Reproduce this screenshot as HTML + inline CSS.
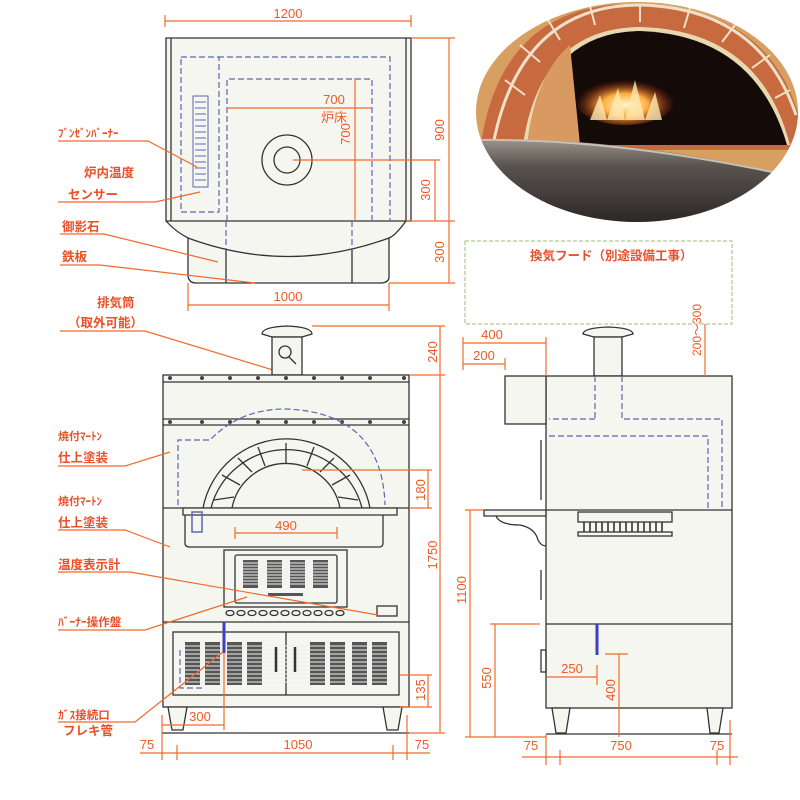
<!DOCTYPE html>
<html><head><meta charset="utf-8"><style>
html,body{margin:0;padding:0;background:#fff;}
svg{display:block;}
text{font-family:"Liberation Sans","Noto Sans CJK JP",sans-serif;}
.d{stroke:#f26a2c;stroke-width:1.2;fill:none}
.t{fill:#ee5a28;font-size:13px}
.tl{fill:#e8502a;font-size:12.5px;font-weight:bold}
.k{stroke:#333;stroke-width:1.3;fill:none}
.f{stroke:#333;stroke-width:1.3;fill:#f6f6f1}
.b{stroke:#5a66b0;stroke-width:1.2;fill:none;stroke-dasharray:6 3}
.v{fill:#444}
</style></head><body>
<svg width="800" height="800" viewBox="0 0 800 800" xmlns="http://www.w3.org/2000/svg">
<defs>
<clipPath id="ph"><ellipse cx="637" cy="112" rx="161" ry="110"/></clipPath>
<radialGradient id="fire" cx="0.5" cy="0.6" r="0.5"><stop offset="0" stop-color="#fff8d0"/><stop offset="0.45" stop-color="#ffb040"/><stop offset="1" stop-color="#c03010" stop-opacity="0"/></radialGradient>
<linearGradient id="flr" x1="0" y1="0" x2="0" y2="1"><stop offset="0" stop-color="#9a948c"/><stop offset="0.3" stop-color="#5a5450"/><stop offset="1" stop-color="#2a2624"/></linearGradient>
</defs>
<rect width="800" height="800" fill="#fff"/>
<!-- photo -->
<g clip-path="url(#ph)">
<rect x="476" y="0" width="324" height="225" fill="#d8a060"/>
<path d="M480,150 Q500,0 640,4 Q770,8 800,120 L800,150 Z" fill="#c86a40"/>
<path d="M493,145 Q520,5 640,5 Q760,8 796,115" stroke="#f0e0c8" stroke-width="3" fill="none"/>
<path d="M523,145 Q540,28 640,27 Q760,30 790,145 Z" fill="#e8d8b0"/>
<path d="M527,145 Q545,32 640,31 Q755,35 787,145 Z" fill="#140a08"/>
<path d="M527,145 Q535,75 570,45 L580,145 Z" fill="#d89a60"/>
<ellipse cx="625" cy="100" rx="50" ry="25" fill="url(#fire)"/>
<path d="M590,120 L600,95 L607,120 L618,88 L625,120 L635,80 L645,120 L655,92 L662,120 Z" fill="#ffe8b0" opacity="0.8"/>
<path d="M476,140 Q620,135 800,178 L800,225 L476,225 Z" fill="url(#flr)"/>
<path d="M476,140 Q620,138 800,178" stroke="#c8c0b4" stroke-width="2" fill="none"/>
<g stroke="#f0e0c8" stroke-width="2"><path d="M505,80 L525,95 M520,45 L540,62 M548,20 L560,40 M590,6 L595,25 M640,4 L640,22 M690,8 L684,28 M735,25 L722,42 M770,55 L752,68 M790,90 L775,98"/></g>
</g>
<!-- TOP VIEW -->
<path class="d" d="M165,21 H411 M165,15 V27 M411,15 V27"/>
<text class="t" x="288" y="18" text-anchor="middle">1200</text>
<path class="f" d="M166,38 H411 V221 L406,221 Q395,236 389,238 L389,278 Q388,283 380,283 H196 Q189,283 188,276 L188,238 Q176,232 166,221 Z"/>
<path class="k" d="M171,38 V221 M406,38 V221 M166,221 H411"/>
<path class="k" d="M188,238 Q288,275 389,238"/>
<path class="k" d="M226,250 V283 M352,250 V283"/>
<path class="b" d="M181,57 H219 V212 H181 Z"/>
<path class="b" d="M218,57 H390 V221 M227,221 V79 H372 V221"/>
<path class="b" d="M226,221 V250 M352,221 V250"/>
<rect x="193" y="96" width="15" height="91" fill="none" stroke="#5a66b0" stroke-width="1"/>
<g stroke="#5a66b0" stroke-width="0.9" fill="none">
<path d="M195,102 h11 M195,108 h11 M195,114 h11 M195,120 h11 M195,126 h11 M195,132 h11 M195,138 h11 M195,144 h11 M195,150 h11 M195,156 h11 M195,162 h11 M195,168 h11 M195,174 h11 M195,180 h11"/>
</g>
<circle class="k" cx="287" cy="160" r="25"/><circle class="k" cx="287" cy="160" r="13"/>
<path class="d" d="M227,108 H372 M355,78 V221 M293,160 H440 M435,160 V221 M411,38 H455 M389,283 H455 M406,221 H455 M449,38 V283"/>
<text class="t" x="334" y="104" text-anchor="middle">700</text>
<text class="t" x="334" y="122" text-anchor="middle">炉床</text>
<text class="t" transform="translate(350,134) rotate(-90)" text-anchor="middle">700</text>
<text class="t" transform="translate(444,130) rotate(-90)" text-anchor="middle">900</text>
<text class="t" transform="translate(430,190) rotate(-90)" text-anchor="middle">300</text>
<text class="t" transform="translate(444,252) rotate(-90)" text-anchor="middle">300</text>
<path class="d" d="M188,305 H389 M188,283 V311 M389,283 V311"/>
<text class="t" x="288" y="301" text-anchor="middle">1000</text>
<!-- top labels -->
<text class="tl" x="58" y="137" style="font-size:11px">ﾌﾞﾝｾﾞﾝﾊﾞｰﾅｰ</text>
<path class="d" d="M58,141 H148 L197,167"/>
<text class="tl" x="84" y="177">炉内温度</text>
<text class="tl" x="68" y="199">センサー</text>
<path class="d" d="M58,202 H155 L200,192"/>
<text class="tl" x="62" y="231">御影石</text>
<path class="d" d="M60,234 H104 L218,262"/>
<text class="tl" x="62" y="261">鉄板</text>
<path class="d" d="M60,265 H100 L255,283"/>
<text class="tl" x="97" y="307">排気筒</text>
<text class="tl" x="68" y="327">（取外可能）</text>
<path class="d" d="M60,331 H145 L273,370"/>
<!-- FRONT VIEW -->
<path class="f" d="M262,334 Q262,327 287,326 Q312,327 312,334 L302,337 H272 Z"/>
<rect class="f" x="272" y="337" width="30" height="38"/>
<circle class="k" cx="285" cy="352" r="6"/><path class="k" d="M289,357 L296,364"/>
<rect class="f" x="163" y="375" width="246" height="332"/>
<path class="k" d="M163,382 H409 M163,419 H409 M163,425 H409 M163,508 H409 M163,622 H409"/>
<g class="v"><circle cx="170" cy="378" r="2"/><circle cx="202" cy="378" r="2"/><circle cx="230" cy="378" r="2"/><circle cx="258" cy="378" r="2"/><circle cx="286" cy="378" r="2"/><circle cx="314" cy="378" r="2"/><circle cx="342" cy="378" r="2"/><circle cx="370" cy="378" r="2"/><circle cx="404" cy="378" r="2"/>
<circle cx="170" cy="422" r="2"/><circle cx="202" cy="422" r="2"/><circle cx="230" cy="422" r="2"/><circle cx="258" cy="422" r="2"/><circle cx="286" cy="422" r="2"/><circle cx="314" cy="422" r="2"/><circle cx="342" cy="422" r="2"/><circle cx="370" cy="422" r="2"/><circle cx="404" cy="422" r="2"/></g>
<path class="b" d="M178,505 V440 H210 Q240,409 285,409 Q382,412 385,505"/>
<path d="M203,508 A85,85 0 0 1 370,508 L362,508 A78,78 0 0 0 211,508 Z" fill="#f6f6f1" stroke="#333" stroke-width="1.3"/>
<path class="k" d="M232,508 A55,55 0 0 1 340,508"/>
<g class="k" stroke-width="2">
<path d="M214,500 L234,497 M222,475 L240,485 M238,458 L252,472 M258,447 L265,466 M286,443 L286,463 M314,447 L307,466 M334,458 L320,472 M350,475 L332,485 M358,500 L338,497"/>
</g>
<path class="f" d="M183,508 H397 V515 H183 Z"/>
<path class="k" d="M185,515 V543 Q185,547 190,547 H379 Q383,547 383,543 V515"/>
<rect x="192" y="512" width="10" height="20" fill="none" stroke="#5a66b0" stroke-width="1.5"/>
<path class="d" d="M235,533 H337 M235,527 V539 M337,527 V539"/>
<text class="t" x="286" y="530" text-anchor="middle">490</text>
<rect class="f" x="224" y="550" width="123" height="57"/>
<rect class="k" x="235" y="555" width="102" height="48" rx="2"/>
<g fill="#555"><rect x="243" y="560" width="15" height="28"/><rect x="267" y="560" width="15" height="28"/><rect x="290" y="560" width="15" height="28"/><rect x="313" y="560" width="15" height="28"/></g>
<g stroke="#eee" stroke-width="1"><path d="M243,563h85M243,566h85M243,569h85M243,572h85M243,575h85M243,578h85M243,581h85M243,584h85"/></g>
<rect x="268" y="593" width="35" height="3" fill="#555"/>
<g class="k" stroke-width="1"><ellipse cx="230" cy="613" rx="4" ry="2.5"/><ellipse cx="241" cy="613" rx="4" ry="2.5"/><ellipse cx="252" cy="613" rx="4" ry="2.5"/><ellipse cx="263" cy="613" rx="4" ry="2.5"/><ellipse cx="274" cy="613" rx="4" ry="2.5"/><ellipse cx="285" cy="613" rx="4" ry="2.5"/><ellipse cx="296" cy="613" rx="4" ry="2.5"/><ellipse cx="307" cy="613" rx="4" ry="2.5"/><ellipse cx="318" cy="613" rx="4" ry="2.5"/><ellipse cx="329" cy="613" rx="4" ry="2.5"/><ellipse cx="340" cy="613" rx="4" ry="2.5"/></g>
<rect class="k" x="377" y="606" width="20" height="10"/>
<rect class="k" x="173" y="632" width="226" height="63"/>
<path class="k" d="M286,632 V695"/>
<g fill="#555"><rect x="185" y="642" width="15" height="43"/><rect x="205" y="642" width="15" height="43"/><rect x="227" y="642" width="15" height="43"/><rect x="247" y="642" width="15" height="43"/><rect x="310" y="642" width="15" height="43"/><rect x="330" y="642" width="15" height="43"/><rect x="352" y="642" width="15" height="43"/><rect x="372" y="642" width="15" height="43"/></g>
<g stroke="#eee" stroke-width="1"><path d="M185,646h202M185,650h202M185,654h202M185,658h202M185,662h202M185,666h202M185,670h202M185,674h202M185,678h202M185,682h202"/></g>
<path d="M276,647 V672 M295,647 V672" stroke="#333" stroke-width="2.5"/>
<path d="M224,622 V653" stroke="#3a40c0" stroke-width="3"/>
<path class="b" d="M180,650 V688 H205"/>
<path class="f" d="M168,707 H187 L183,730 H172 Z"/><path class="f" d="M383,707 H402 L398,730 H387 Z"/>
<path class="k" d="M162,733 H409"/>
<!-- front dims -->
<path class="d" d="M312,326 H445 M409,375 H445 M440,326 V733 M409,733 H445 M302,470 H432 M428,470 V508 M409,508 H432 M428,675 V707 M400,707 H432 M400,675 H432"/>
<text class="t" transform="translate(437,352) rotate(-90)" text-anchor="middle">240</text>
<text class="t" transform="translate(437,555) rotate(-90)" text-anchor="middle">1750</text>
<text class="t" transform="translate(425,490) rotate(-90)" text-anchor="middle">180</text>
<text class="t" transform="translate(425,690) rotate(-90)" text-anchor="middle">135</text>
<path class="d" d="M162,725 H224 M162,715 V760 M224,653 V730"/>
<text class="t" x="200" y="721" text-anchor="middle">300</text>
<path class="d" d="M140,753 H430 M177,745 V760 M393,745 V760 M407,715 V760"/>
<text class="t" x="147" y="749" text-anchor="middle">75</text>
<text class="t" x="298" y="749" text-anchor="middle">1050</text>
<text class="t" x="422" y="749" text-anchor="middle">75</text>
<!-- front labels -->
<text class="tl" x="58" y="440" style="font-size:11px">焼付ﾏｰﾄﾝ</text>
<text class="tl" x="58" y="462">仕上塗装</text>
<path class="d" d="M58,466 H125 L170,452"/>
<text class="tl" x="58" y="505" style="font-size:11px">焼付ﾏｰﾄﾝ</text>
<text class="tl" x="58" y="527">仕上塗装</text>
<path class="d" d="M58,530 H125 L170,547"/>
<text class="tl" x="58" y="569">温度表示計</text>
<path class="d" d="M58,572 H130 L378,615"/>
<text class="tl" x="58" y="626" style="font-size:11.5px">ﾊﾞｰﾅｰ操作盤</text>
<path class="d" d="M58,630 H145 L247,597"/>
<text class="tl" x="58" y="719" style="font-size:11.5px">ｶﾞｽ接続口</text>
<text class="tl" x="63" y="735">フレキ管</text>
<path class="d" d="M58,722 H135 L223,652"/>
<!-- SIDE VIEW -->
<rect x="465" y="241" width="267" height="83" fill="none" stroke="#9cbb7a" stroke-width="1" stroke-dasharray="4 2"/>
<text class="tl" x="530" y="260">換気フード（別途設備工事）</text>
<path class="f" d="M583,334 Q583,328 608,327 Q633,328 633,334 L622,337 H594 Z"/>
<rect class="f" x="594" y="337" width="28" height="39"/>
<rect class="f" x="546" y="376" width="186" height="332"/>
<path class="k" d="M546,510 H732 M546,624 H732"/>
<rect class="f" x="505" y="376" width="41" height="48"/>
<path class="k" d="M541,440 V500 M541,570 V600"/>
<path class="f" d="M484,510 H546 V516 H484 Z"/>
<path class="k" d="M496,516 Q500,525 520,525 Q535,528 538,540 Q541,546 546,546"/>
<rect class="f" x="578" y="512" width="94" height="10"/>
<g stroke="#333" stroke-width="1.6"><path d="M584,522V532M590,522V532M596,522V532M602,522V532M608,522V532M614,522V532M620,522V532M626,522V532M632,522V532M638,522V532M644,522V532M650,522V532M656,522V532M662,522V532"/></g>
<rect class="k" x="578" y="532" width="94" height="4"/>
<path class="b" d="M595,376 V419 M622,376 V419 H722 V508 M595,419 H549 M549,436 H708 V508"/>
<path d="M597,624 V655" stroke="#3a40c0" stroke-width="3"/>
<rect class="k" x="541" y="650" width="5" height="22"/>
<path class="f" d="M552,708 H570 L566,733 H556 Z"/><path class="f" d="M707,708 H723 L719,733 H710 Z"/>
<path class="k" d="M546,734 H732"/>
<path class="d" d="M463,343 H546 M463,337 V370 M546,337 V376 M463,364 H505 M505,358 V370"/>
<text class="t" x="492" y="339" text-anchor="middle">400</text>
<text class="t" x="484" y="360" text-anchor="middle">200</text>
<path class="d" d="M705,324 V376"/>
<text class="t" transform="translate(701,330) rotate(-90)" text-anchor="middle" style="font-size:12px">200～300</text>
<path class="d" d="M470,510 V737 M465,510 H484 M495,624 V737 M490,624 H540 M465,737 H546 M547,677 H597 M597,665 V685 M619,654 V737 M605,654 H628"/>
<text class="t" transform="translate(466,590) rotate(-90)" text-anchor="middle">1100</text>
<text class="t" transform="translate(491,678) rotate(-90)" text-anchor="middle">550</text>
<text class="t" x="572" y="673" text-anchor="middle">250</text>
<text class="t" transform="translate(615,690) rotate(-90)" text-anchor="middle">400</text>
<path class="d" d="M522,757 H738 M546,735 V765 M560,750 V765 M717,750 V765 M730,720 V765"/>
<text class="t" x="531" y="750" text-anchor="middle">75</text>
<text class="t" x="621" y="750" text-anchor="middle">750</text>
<text class="t" x="717" y="750" text-anchor="middle">75</text>
</svg>
</body></html>
